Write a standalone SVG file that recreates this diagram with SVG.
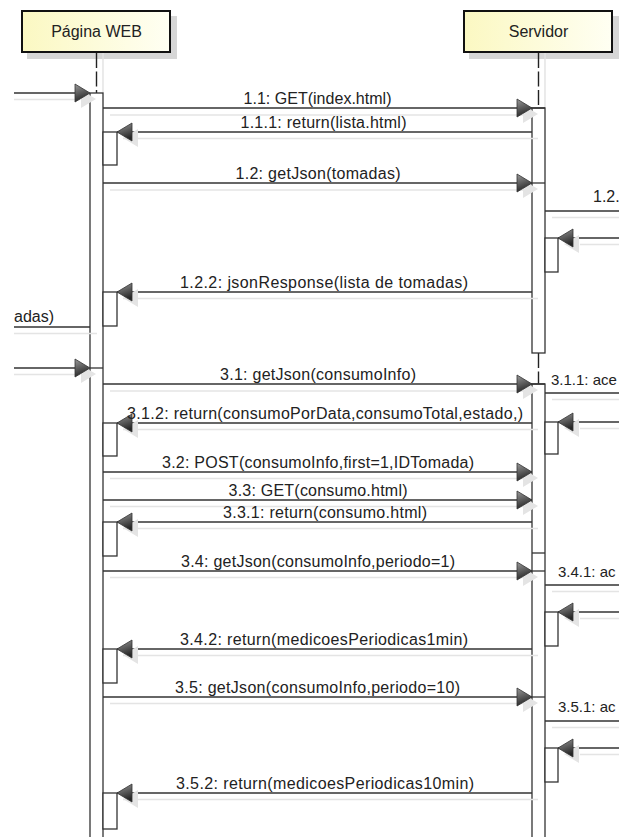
<svg xmlns="http://www.w3.org/2000/svg" width="619" height="837" viewBox="0 0 619 837">
<defs>
<linearGradient id="hdr" x1="0" y1="0" x2="1" y2="0">
<stop offset="0" stop-color="#fbf8c2"/>
<stop offset="1" stop-color="#fffff3"/>
</linearGradient>
<linearGradient id="ag" x1="0" y1="0" x2="0.3" y2="1">
<stop offset="0" stop-color="#9a9a9a"/>
<stop offset="1" stop-color="#262626"/>
</linearGradient>
<g id="ahR">
<polygon points="-9,-3 6,6 -9,15" fill="#e4e4e4"/>
<polygon points="-15,-9 0,0 -15,9" fill="url(#ag)" stroke="#333" stroke-width="0.8"/>
</g>
<g id="ahL">
<polygon points="21,-3 6,6 21,15" fill="#e4e4e4"/>
<polygon points="15,-9 0,0 15,9" fill="url(#ag)" stroke="#333" stroke-width="0.8"/>
</g>
</defs>
<style>
.hbox{fill:url(#hdr);stroke:#111;stroke-width:2}
.hsh{fill:#d6d6d6}
.life{stroke:#222;stroke-width:1.4;stroke-dasharray:15 3.5;fill:none}
.lsh{stroke:#e2e2e2;stroke-width:1.4}
.bar{fill:#fff;stroke:#333;stroke-width:1.3}
.msg{stroke:#333;stroke-width:1.3;fill:none}
.msh{stroke:#e4e4e4;stroke-width:1.6;fill:none}
text{font-family:"Liberation Sans",Arial,sans-serif;font-size:16px;fill:#222}
.c{text-anchor:middle}
.r{font-size:15px}
</style>
<rect width="619" height="837" fill="#fff"/>

<g id="pagina-web">
<rect class="hsh" x="27" y="16" width="150" height="43"/>
<rect class="hbox" x="22" y="11" width="148" height="41"/>
<text class="c" x="96.5" y="36.5">Página WEB</text>
<line class="lsh" x1="103" y1="53" x2="103" y2="93"/>
<line class="life" x1="96.5" y1="53" x2="96.5" y2="93"/>
<rect class="bar" x="90" y="93" width="13" height="760"/>
<line class="msg" x1="90" y1="368" x2="103" y2="368"/>
<rect class="bar" x="103" y="132" width="14" height="33"/>
<rect class="bar" x="103" y="292" width="14" height="34"/>
<rect class="bar" x="103" y="423" width="14" height="33"/>
<rect class="bar" x="103" y="522" width="14" height="34"/>
<rect class="bar" x="103" y="649" width="14" height="34"/>
<rect class="bar" x="103" y="793" width="14" height="36"/>
</g>

<g id="servidor">
<rect class="hsh" x="469" y="16" width="150" height="43"/>
<rect class="hbox" x="464" y="11" width="148" height="41"/>
<text class="c" x="538.5" y="36.5">Servidor</text>
<line class="lsh" x1="545" y1="53" x2="545" y2="108"/>
<line class="life" x1="538.5" y1="53" x2="538.5" y2="108"/>
<line class="life" x1="538.5" y1="353" x2="538.5" y2="384"/>
<rect class="bar" x="532" y="108" width="13" height="245"/>
<line class="msg" x1="532" y1="183" x2="545" y2="183"/>
<rect class="bar" x="532" y="384" width="13" height="470"/>
<line class="msg" x1="532" y1="553" x2="545" y2="553"/>
<line class="msg" x1="532" y1="571" x2="545" y2="571"/>
<line class="msg" x1="532" y1="697" x2="545" y2="697"/>
<rect class="bar" x="545" y="238" width="13" height="34"/>
<rect class="bar" x="545" y="422" width="13" height="32"/>
<rect class="bar" x="545" y="612" width="13" height="34"/>
<rect class="bar" x="545" y="748" width="13" height="34"/>
</g>

<g id="connectors">
<g class="msh">
<line x1="14" y1="99.5" x2="80" y2="99.5"/>
<line x1="14" y1="333.5" x2="97" y2="333.5"/>
<line x1="14" y1="374.5" x2="80" y2="374.5"/>
<line x1="110" y1="115" x2="530" y2="115"/>
<line x1="123" y1="138.5" x2="538" y2="138.5"/>
<line x1="110" y1="190" x2="530" y2="190"/>
<line x1="123" y1="298.5" x2="538" y2="298.5"/>
<line x1="110" y1="391" x2="530" y2="391"/>
<line x1="123" y1="429.5" x2="538" y2="429.5"/>
<line x1="110" y1="478.5" x2="530" y2="478.5"/>
<line x1="110" y1="506.5" x2="530" y2="506.5"/>
<line x1="123" y1="528.5" x2="538" y2="528.5"/>
<line x1="110" y1="577.5" x2="530" y2="577.5"/>
<line x1="123" y1="655.5" x2="538" y2="655.5"/>
<line x1="110" y1="703.5" x2="530" y2="703.5"/>
<line x1="123" y1="799.5" x2="538" y2="799.5"/>
<line x1="552" y1="217.5" x2="619" y2="217.5"/>
<line x1="552" y1="399.5" x2="619" y2="399.5"/>
<line x1="552" y1="591.5" x2="619" y2="591.5"/>
<line x1="552" y1="727.5" x2="619" y2="727.5"/>
<line x1="580" y1="244.5" x2="619" y2="244.5"/>
<line x1="580" y1="428.5" x2="619" y2="428.5"/>
<line x1="580" y1="618.5" x2="619" y2="618.5"/>
<line x1="580" y1="754.5" x2="619" y2="754.5"/>
</g>
<line class="msg" x1="14" y1="93" x2="80" y2="93"/>
<use href="#ahR" x="90" y="93"/>
<line class="msg" x1="14" y1="327" x2="90" y2="327"/>
<text x="14" y="322">adas)</text>
<line class="msg" x1="14" y1="368" x2="80" y2="368"/>
<use href="#ahR" x="90" y="368"/>

<line class="msg" x1="103" y1="108" x2="545" y2="108"/>
<use href="#ahR" x="532" y="108"/>
<text class="c" x="317.5" y="104" textLength="148">1.1: GET(index.html)</text>

<line class="msg" x1="103" y1="183" x2="532" y2="183"/>
<use href="#ahR" x="532" y="183"/>
<text class="c" x="318" y="179" textLength="165">1.2: getJson(tomadas)</text>

<line class="msg" x1="103" y1="384" x2="545" y2="384"/>
<use href="#ahR" x="532" y="384"/>
<text class="c" x="318" y="380" textLength="196">3.1: getJson(consumoInfo)</text>

<line class="msg" x1="103" y1="472" x2="532" y2="472"/>
<use href="#ahR" x="532" y="472"/>
<text class="c" x="318" y="467.5" textLength="312">3.2: POST(consumoInfo,first=1,IDTomada)</text>

<line class="msg" x1="103" y1="500" x2="532" y2="500"/>
<use href="#ahR" x="532" y="500"/>
<text class="c" x="318" y="495.5" textLength="179">3.3: GET(consumo.html)</text>

<line class="msg" x1="103" y1="571" x2="532" y2="571"/>
<use href="#ahR" x="532" y="571"/>
<text class="c" x="318" y="566.5" textLength="274">3.4: getJson(consumoInfo,periodo=1)</text>

<line class="msg" x1="103" y1="697" x2="532" y2="697"/>
<use href="#ahR" x="532" y="697"/>
<text class="c" x="317.5" y="692.5" textLength="285">3.5: getJson(consumoInfo,periodo=10)</text>

<line class="msg" x1="532" y1="132" x2="117" y2="132"/>
<use href="#ahL" x="117" y="132"/>
<text class="c" x="323.5" y="127.5" textLength="166">1.1.1: return(lista.html)</text>

<line class="msg" x1="532" y1="292" x2="117" y2="292"/>
<use href="#ahL" x="117" y="292"/>
<text class="c" x="324" y="287.5" textLength="288">1.2.2: jsonResponse(lista de tomadas)</text>

<line class="msg" x1="532" y1="423" x2="117" y2="423"/>
<use href="#ahL" x="117" y="423"/>
<text class="c" x="325" y="418.5" textLength="396">3.1.2: return(consumoPorData,consumoTotal,estado,)</text>

<line class="msg" x1="532" y1="522" x2="117" y2="522"/>
<use href="#ahL" x="117" y="522"/>
<text class="c" x="325" y="517.5" textLength="204">3.3.1: return(consumo.html)</text>

<line class="msg" x1="532" y1="649" x2="117" y2="649"/>
<use href="#ahL" x="117" y="649"/>
<text class="c" x="324" y="644.5" textLength="288">3.4.2: return(medicoesPeriodicas1min)</text>

<line class="msg" x1="532" y1="793" x2="117" y2="793"/>
<use href="#ahL" x="117" y="793"/>
<text class="c" x="325" y="788.5" textLength="298">3.5.2: return(medicoesPeriodicas10min)</text>

<line class="msg" x1="545" y1="211" x2="619" y2="211"/>
<text x="593" y="202">1.2.</text>
<line class="msg" x1="545" y1="393" x2="619" y2="393"/>
<text class="r" x="551" y="385">3.1.1: ace</text>
<line class="msg" x1="545" y1="585" x2="619" y2="585"/>
<text class="r" x="558" y="577">3.4.1: ac</text>
<line class="msg" x1="545" y1="721" x2="619" y2="721"/>
<text class="r" x="558" y="712">3.5.1: ac</text>

<line class="msg" x1="619" y1="238" x2="558" y2="238"/>
<use href="#ahL" x="558" y="238"/>
<line class="msg" x1="619" y1="422" x2="558" y2="422"/>
<use href="#ahL" x="558" y="422"/>
<line class="msg" x1="619" y1="612" x2="558" y2="612"/>
<use href="#ahL" x="558" y="612"/>
<line class="msg" x1="619" y1="748" x2="558" y2="748"/>
<use href="#ahL" x="558" y="748"/>
</g>
</svg>
